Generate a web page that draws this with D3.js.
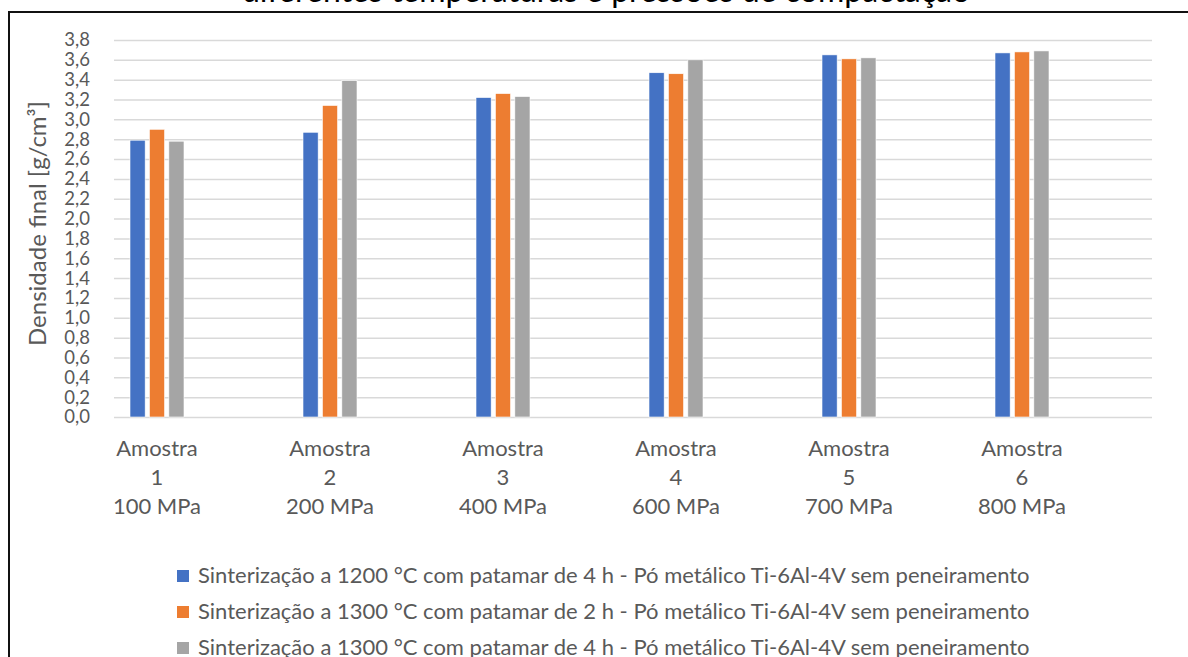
<!DOCTYPE html>
<html>
<head>
<meta charset="utf-8">
<script src="https://cdn.jsdelivr.net/npm/d3@7"></script>
<style>
  body { margin: 0; background: #fff; }
  svg { display: block; font-family: Lato, 'Open Sans', sans-serif; }
  .grid line { stroke: #d9d9d9; stroke-width: 1.5; }
  .grid .domain { display: none; }
  .tick text { fill: #595959; }
</style>
</head>
<body>
<div id="chart_container"></div>
<script>
// amostras e pressões de compactação
const amostras = ['1', '2', '3', '4', '5', '6'];
const pressoes = ['100 MPa', '200 MPa', '400 MPa', '600 MPa', '700 MPa', '800 MPa'];

const serieNames = [
  'Sinterização a 1200 °C com patamar de 4 h - Pó metálico Ti-6Al-4V sem peneiramento',
  'Sinterização a 1300 °C com patamar de 2 h - Pó metálico Ti-6Al-4V sem peneiramento',
  'Sinterização a 1300 °C com patamar de 4 h - Pó metálico Ti-6Al-4V sem peneiramento'
];
const serieColors = ['#4472c4', '#ed7d31', '#a5a5a5'];

// densidade final [g/cm³]
const s1200_4h = [2.79, 2.87, 3.22, 3.47, 3.65, 3.67];
const s1300_2h = [2.90, 3.14, 3.26, 3.46, 3.61, 3.68];
const s1300_4h = [2.78, 3.39, 3.23, 3.60, 3.62, 3.69];

const yMax = 3.8;

const W = 1188, H = 657;
const plot = { left: 114, right: 1152, top: 40, bottom: 417 };

const svg = d3.select('#chart_container').append('svg')
  .attr('width', W).attr('height', H);

svg.append('rect').attr('width', W).attr('height', H).attr('fill', '#fff');

// moldura (cortada na imagem original)
svg.append('rect')
  .attr('x', 9).attr('y', 12)
  .attr('width', W + 20).attr('height', H + 20)
  .attr('fill', 'none').attr('stroke', '#111').attr('stroke-width', 2);

// título (quase todo fora da área visível)
svg.append('text')
  .attr('x', 606).attr('y', 1.5)
  .attr('text-anchor', 'middle')
  .attr('font-size', 32)
  .attr('fill', '#000')
  .text('diferentes temperaturas e pressões de compactação');

const series = [s1200_4h, s1300_2h, s1300_4h];
const data = amostras.map((a, i) => ({
  key: a,
  values: series.map((s, j) => ({ serie: j, value: s[i] }))
}));

const step = (plot.right - plot.left) / amostras.length;
const xScale = d3.scaleBand()
  .domain(amostras)
  .range([plot.left - 43.5, plot.left - 43.5 + step * amostras.length])
  .padding(0);

const xInner = d3.scaleBand()
  .domain(d3.range(series.length))
  .range([-27, 27])
  .paddingInner(0.22);

const yScale = d3.scaleLinear()
  .domain([0, yMax])
  .range([plot.bottom, plot.top]);

const fmt = d3.formatLocale({ decimal: ',', thousands: '.', grouping: [3], currency: ['', ''] }).format('.1f');

// linhas de grade
svg.append('g')
  .attr('class', 'grid')
  .attr('transform', `translate(${plot.left}, 0)`)
  .call(d3.axisLeft(yScale)
    .ticks(19)
    .tickSize(-(plot.right - plot.left))
    .tickFormat(''));

// eixo y
const yAxis = svg.append('g')
  .attr('transform', `translate(${plot.left}, 0)`)
  .call(d3.axisLeft(yScale).ticks(19).tickSize(0).tickPadding(24).tickFormat(fmt));
yAxis.select('.domain').remove();
yAxis.selectAll('text').attr('font-size', 18.5).attr('font-family', 'Lato');

svg.append('text')
  .attr('transform', `translate(46, ${(plot.top + plot.bottom) / 2 - 5}) rotate(-90)`)
  .attr('text-anchor', 'middle')
  .attr('font-size', 24)
  .attr('fill', '#595959')
  .text('Densidade final [g/cm³]');

// barras
const groups = svg.append('g').selectAll('g')
  .data(data)
  .enter()
  .append('g')
  .attr('transform', d => `translate(${xScale(d.key) + xScale.bandwidth() / 2}, 0)`);

groups.selectAll('rect')
  .data(d => d.values)
  .enter()
  .append('rect')
  .attr('x', d => xInner(d.serie))
  .attr('y', d => yScale(d.value))
  .attr('width', xInner.bandwidth())
  .attr('height', d => yScale(0) - yScale(d.value))
  .attr('fill', d => serieColors[d.serie])
  .attr('stroke', '#fff')
  .attr('stroke-width', 0.6);

// rótulos das categorias
const cx = d => xScale(d) + xScale.bandwidth() / 2;
const xLabels = svg.append('g').selectAll('text')
  .data(amostras)
  .enter()
  .append('text')
  .attr('text-anchor', 'middle')
  .attr('font-size', 22)
  .attr('fill', '#595959')
  .attr('x', cx)
  .attr('y', 456);

xLabels.append('tspan').attr('x', cx).text('Amostra');
xLabels.append('tspan').attr('x', cx).attr('dy', 29).text(d => d);
xLabels.append('tspan').attr('x', cx).attr('dy', 29).text((d, i) => pressoes[i]);

// legenda
const legend = svg.append('g').selectAll('g')
  .data(serieNames)
  .enter()
  .append('g')
  .attr('transform', (d, i) => `translate(177, ${576 + i * 36})`);

legend.append('rect')
  .attr('x', 0).attr('y', -6)
  .attr('width', 12).attr('height', 12)
  .attr('fill', (d, i) => serieColors[i]);

legend.append('text')
  .attr('x', 21).attr('y', 7)
  .attr('font-size', 22)
  .attr('fill', '#595959')
  .text(d => d);
</script>
</body>
</html>
